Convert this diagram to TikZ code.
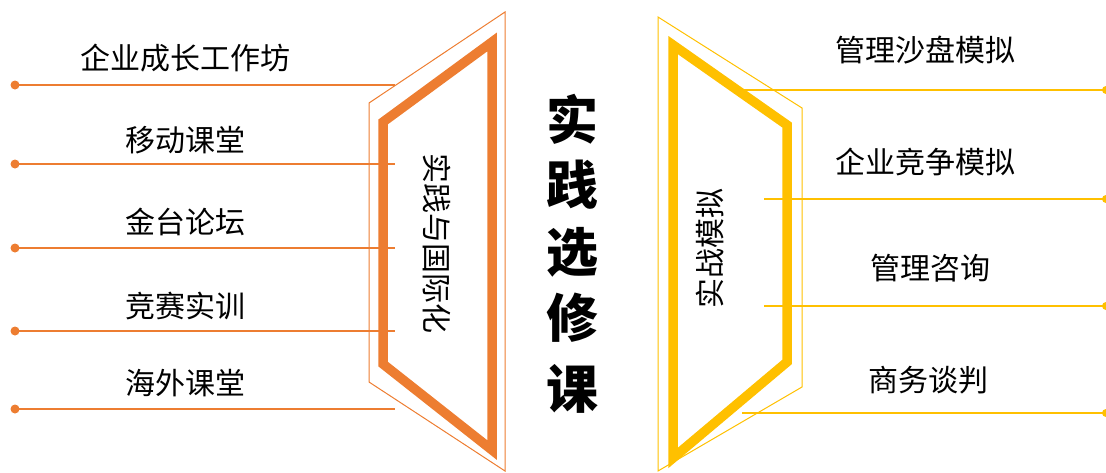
\documentclass[tikz,border=0pt]{standalone}
\usepackage{fontspec}
\setmainfont{Liberation Sans}
\newfontfamily\cjk{Noto Sans CJK SC}
\newfontfamily\cjkb{Noto Sans CJK SC Black}
\definecolor{org}{HTML}{ED7D31}
\definecolor{gld}{HTML}{FFC000}
\begin{document}
\begin{tikzpicture}[x=1pt,y=-1pt,
  lab/.style={font=\cjk\fontsize{30}{30}\selectfont, inner sep=0pt},
  vlab/.style={font=\cjk\fontsize{30}{30}\selectfont, inner sep=0pt},
  ttl/.style={font=\cjkb\fontsize{52}{52}\selectfont, inner sep=0pt},
  oline/.style={draw=org, line width=2.5pt},
  gline/.style={draw=gld, line width=2.5pt},
  odot/.style={circle, fill=org, minimum size=9pt, inner sep=0pt},
  gdot/.style={circle, fill=gld, minimum size=8pt, inner sep=0pt}]
\useasboundingbox (0,0) rectangle (1106,472);
% left trapezoids
\draw[org, line width=1pt] (369,103) -- (505,12) -- (505,471) -- (369,382) -- cycle;
\draw[org, line width=9.5pt, line join=miter] (383,122) -- (492,42) -- (492,450) -- (383,364) -- cycle;
\node[vlab, rotate=-90] (lt) at (437,243) {实践与国际化};
% right trapezoids
\draw[gld, line width=1pt] (658,17) -- (802,108) -- (802,387) -- (658,471) -- cycle;
\draw[gld, line width=9.5pt, line join=miter] (673,45) -- (787,125) -- (787,362) -- (673,458) -- cycle;
\node[vlab, rotate=90] (rt) at (710,248) {实战模拟};
% title
\node[ttl] (t1) at (572,119) {实};
\node[ttl] (t2) at (572,185) {践};
\node[ttl] (t3) at (572,252) {选};
\node[ttl] (t4) at (572,318) {修};
\node[ttl] (t5) at (572,389) {课};
% left items
\foreach \i/\y/\ty/\t in {1/85/58/企业成长工作坊, 2/164/140/移动课堂, 3/248/222/金台论坛, 4/331/306/竞赛实训, 5/409/383/海外课堂}{
  \node[odot] (ld\i) at (15,\y) {};
  \coordinate (le\i) at (395,\y);
  \draw[oline] (ld\i.center) -- (le\i);
  \node[lab] (ll\i) at (185,\ty) {\t};
}
% right items
\foreach \i/\y/\x/\ty/\tx/\t in {1/90/742/50/925/管理沙盘模拟, 2/199/764/162/925/企业竞争模拟, 3/306/764/268/930/管理咨询, 4/413/742/380/928/商务谈判}{
  \node[gdot] (rd\i) at (1106,\y) {};
  \coordinate (rs\i) at (\x,\y);
  \draw[gline] (rs\i) -- (rd\i.center);
  \node[lab] (rl\i) at (\tx,\ty) {\t};
}
\end{tikzpicture}
\end{document}
